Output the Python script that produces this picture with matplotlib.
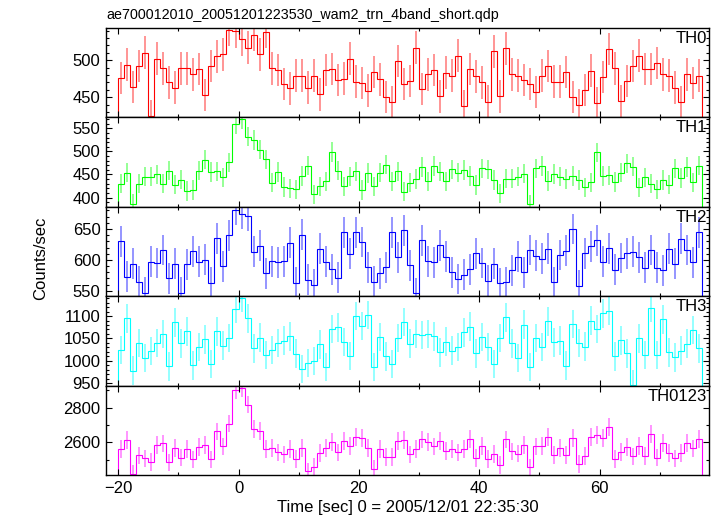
import numpy as np
import matplotlib
matplotlib.use('Agg')
import matplotlib.pyplot as plt
from matplotlib.ticker import MultipleLocator

# 1 sec bins, edges from -20 to 77
bin_edges = np.arange(-20, 78, 1)
bin_centers = bin_edges[:-1] + 0.5

th0 = [476, 494, 464, 492, 510, 424, 502, 489, 470, 463,
       489, 489, 481, 488, 453, 492, 505, 508, 541, 539,
       528, 517, 534, 508, 538, 489, 487, 468, 462, 479,
       479, 463, 479, 454, 487, 488, 473, 475, 502, 471,
       469, 459, 484, 474, 450, 443, 499, 468, 472, 517,
       461, 481, 487, 451, 483, 479, 506, 438, 488, 478,
       470, 444, 512, 451, 516, 481, 479, 473, 468, 457,
       479, 492, 471, 471, 484, 450, 439, 460, 486, 442,
       477, 515, 489, 445, 472, 492, 506, 488, 488, 496,
       481, 479, 463, 443, 481, 469, 479]

th1 = [430, 454, 386, 430, 445, 445, 450, 430, 458, 428,
       439, 414, 416, 458, 482, 455, 457, 444, 476, 559,
       569, 532, 525, 504, 483, 432, 455, 423, 420, 418,
       447, 469, 407, 424, 435, 499, 458, 424, 446, 457,
       416, 453, 424, 454, 471, 435, 457, 413, 432, 440,
       466, 435, 468, 456, 435, 461, 454, 460, 447, 427,
       463, 461, 438, 409, 441, 441, 445, 452, 385, 463,
       468, 436, 451, 445, 440, 447, 438, 422, 433, 498,
       447, 448, 434, 454, 474, 467, 422, 444, 430, 418,
       438, 428, 463, 442, 466, 433, 469]

th2 = [630, 573, 594, 565, 547, 597, 595, 616, 570, 594,
       547, 593, 614, 597, 600, 563, 635, 590, 640, 681,
       675, 671, 613, 623, 578, 598, 596, 598, 628, 563,
       641, 568, 560, 618, 597, 585, 571, 645, 610, 645,
       629, 588, 565, 578, 588, 645, 604, 648, 591, 546,
       632, 598, 596, 624, 605, 580, 569, 576, 585, 611,
       595, 566, 594, 562, 564, 583, 605, 580, 616, 607,
       602, 618, 564, 608, 615, 650, 558, 611, 622, 632,
       597, 619, 584, 603, 611, 613, 604, 587, 616, 587,
       583, 618, 594, 634, 616, 596, 645]

th3 = [1024, 1095, 978, 1040, 1006, 1022, 1040, 1060, 988, 1086,
       1039, 1066, 990, 1031, 1048, 993, 1066, 1034, 1051, 1116,
       1140, 1095, 1028, 1052, 1013, 1024, 1040, 1045, 1055, 1016,
       982, 995, 1000, 1037, 986, 1071, 1075, 1042, 1011, 1100,
       1078, 1102, 986, 1053, 1010, 993, 1051, 1087, 1038, 1060,
       1058, 1060, 1055, 1019, 1043, 1023, 1031, 1064, 1076, 1017,
       1053, 1031, 993, 1051, 1097, 1039, 1006, 1081, 986, 1051,
       1031, 1088, 1041, 1045, 989, 1082, 1040, 1032, 1090, 1071,
       1106, 1112, 1010, 1046, 1017, 947, 1050, 1013, 1119, 1013,
       1093, 1019, 1008, 1023, 1038, 1069, 1028]

th0123 = [2560, 2615, 2419, 2525, 2508, 2488, 2586, 2594, 2485, 2567,
          2513, 2563, 2502, 2575, 2583, 2502, 2663, 2577, 2708, 2898,
          2913, 2817, 2679, 2667, 2560, 2569, 2542, 2531, 2563, 2504,
          2569, 2433, 2461, 2540, 2569, 2602, 2542, 2610, 2581, 2633,
          2625, 2569, 2450, 2560, 2517, 2517, 2610, 2615, 2531, 2561,
          2617, 2604, 2577, 2606, 2552, 2561, 2542, 2561, 2621, 2510,
          2581, 2504, 2533, 2471, 2617, 2548, 2536, 2585, 2456, 2577,
          2581, 2633, 2527, 2567, 2529, 2627, 2477, 2523, 2633, 2644,
          2627, 2690, 2504, 2546, 2575, 2519, 2581, 2523, 2648, 2513,
          2598, 2540, 2508, 2538, 2598, 2565, 2619]

# one typical error per band
errors = [22, 21, 25, 32, 51]

names = ['TH0', 'TH1', 'TH2', 'TH3', 'TH0123']
colors = ['#ff0000', '#00ff00', '#0000ff', '#00ffff', '#ff00ff']
ylims = [(423, 544), (380, 574), (541, 686), (944, 1144), (2410, 2924)]
ymajor = [50, 50, 50, 50, 200]
yminor = [10, 10, 10, 10, 100]


def main():
	plt.rcParams['font.family'] = ['Liberation Sans', 'DejaVu Sans']
	fig, axes = plt.subplots(5, 1, sharex=True, figsize=(7.17, 5.16), dpi=100)
	fig.subplots_adjust(left=0.148, right=0.989, top=0.9465, bottom=0.0785, hspace=0)

	series = [th0, th1, th2, th3, th0123]
	for i, ax in enumerate(axes):
		vals = np.asarray(series[i], dtype=float)
		ax.errorbar(bin_centers, vals, yerr=errors[i], fmt='none',
			ecolor=colors[i], elinewidth=1.3, alpha=0.45)
		ax.stairs(vals, bin_edges, color=colors[i], lw=0.8)
		ax.set_ylim(*ylims[i])
		ax.set_xlim(-22, 78.2)
		ax.yaxis.set_major_locator(MultipleLocator(ymajor[i]))
		ax.yaxis.set_minor_locator(MultipleLocator(yminor[i]))
		ax.xaxis.set_major_locator(MultipleLocator(20))
		ax.xaxis.set_minor_locator(MultipleLocator(10))
		ax.tick_params(which='both', direction='in', top=True, right=True,
			labelsize=12, width=0.8)
		ax.tick_params(which='major', length=4, pad=4)
		ax.tick_params(which='minor', length=2.5)
		for s in ax.spines.values():
			s.set_linewidth(1.0)
		ax.text(0.997, 0.965, names[i], transform=ax.transAxes, ha='right', va='top',
			fontsize=12)

	axes[-1].set_xlabel('Time [sec] 0 = 2005/12/01 22:35:30', fontsize=12, labelpad=3)
	fig.text(0.056, 0.5, 'Counts/sec', rotation=90, va='center', ha='center', fontsize=12)
	fig.text(0.149, 0.958, 'ae700012010_20051201223530_wam2_trn_4band_short.qdp',
		ha='left', va='bottom', fontsize=10.3)

	fig.savefig('out.png', dpi=100)


if __name__ == '__main__':
	main()
